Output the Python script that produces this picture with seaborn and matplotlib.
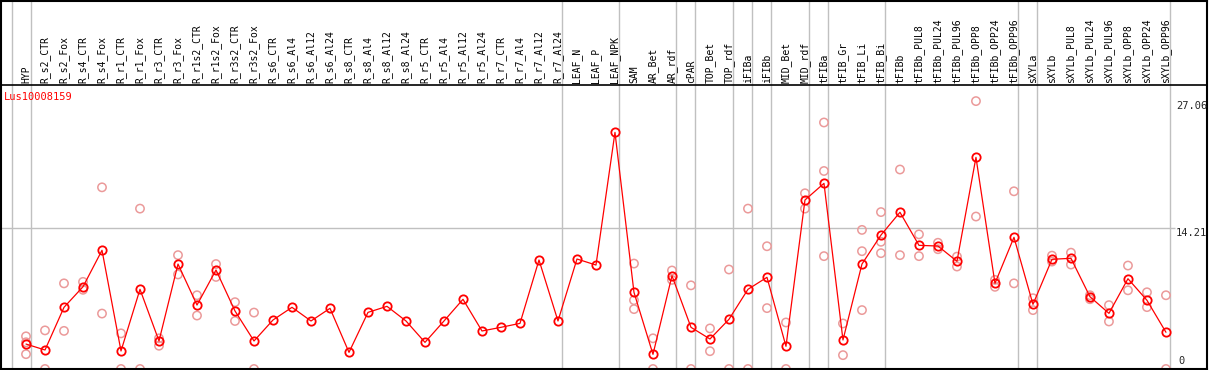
import seaborn as sns
import matplotlib.pyplot as plt
import pandas as pd

# sample names in plot order
samples = ["HYP", "R_s2_CTR", "R_s2_Fox", "R_s4_CTR", "R_s4_Fox", "R_r1_CTR", "R_r1_Fox",
           "R_r3_CTR", "R_r3_Fox", "R_r1s2_CTR", "R_r1s2_Fox", "R_r3s2_CTR", "R_r3s2_Fox",
           "R_s6_CTR", "R_s6_Al4", "R_s6_Al12", "R_s6_Al24", "R_s8_CTR", "R_s8_Al4",
           "R_s8_Al12", "R_s8_Al24", "R_r5_CTR", "R_r5_Al4", "R_r5_Al12", "R_r5_Al24",
           "R_r7_CTR", "R_r7_Al4", "R_r7_Al12", "R_r7_Al24", "LEAF_N", "LEAF_P", "LEAF_NPK",
           "SAM", "AR_Bet", "AR_rdf", "cPAR", "TOP_Bet", "TOP_rdf", "iFIBa", "iFIBb",
           "MID_Bet", "MID_rdf", "tFIBa", "tFIB_Gr", "tFIB_Li", "tFIB_Bi", "tFIBb",
           "tFIBb_PUL8", "tFIBb_PUL24", "tFIBb_PUL96", "tFIBb_OPP8", "tFIBb_OPP24",
           "tFIBb_OPP96", "sXYLa", "sXYLb", "sXYLb_PUL8", "sXYLb_PUL24", "sXYLb_PUL96",
           "sXYLb_OPP8", "sXYLb_OPP24", "sXYLb_OPP96"]

# mean expression per sample
means = [2.52, 1.92, 6.23, 8.31, 11.99, 1.82, 8.05, 2.83, 10.6, 6.46, 10.0, 5.86, 2.83,
         4.95, 6.23, 4.85, 6.13, 1.68, 5.72, 6.33, 4.85, 2.69, 4.85, 7.04, 3.84, 4.21,
         4.61, 11.01, 4.85, 11.11, 10.5, 23.9,
         7.74, 1.48, 9.42, 4.21, 3.03, 5.02, 8.05, 9.26, 2.29, 17.07, 18.75, 2.93, 10.6,
         13.53, 15.83, 12.49, 12.42, 10.88, 21.38, 8.65, 13.3, 6.53, 11.08, 11.18, 7.3,
         5.62, 9.12, 6.94, 3.71]

# visible replicate values per sample (others hidden behind the mean marker)
replicates = [
    [3.3, 2.7, 1.5], [3.9, 0.0], [8.65, 3.85], [8.8, 8.0], [18.35, 5.6], [3.6, 0.0],
    [16.2, 0.0], [3.1, 2.35], [11.5, 9.55], [7.45, 5.4], [10.6, 9.3], [6.75, 4.85],
    [5.7, 0.0],
    [], [], [], [], [], [], [], [], [], [], [], [], [], [], [], [], [], [], [],
    [10.65, 6.95, 6.05], [3.1, 0.0], [9.95, 9.0], [8.45, 0.0], [4.1, 1.8], [10.05, 0.0],
    [16.2, 0.0], [12.4, 6.15], [4.7, 0.0], [17.75, 16.2], [24.9, 20.0, 11.4], [4.6, 1.4],
    [14.05, 11.9, 5.95], [15.85, 12.85, 11.7], [20.15, 11.5], [13.6, 11.4], [12.75, 12.1],
    [11.35, 10.35], [27.06, 15.4], [9.0, 8.3], [17.95, 8.65], [7.15, 5.95], [11.45, 10.85],
    [11.75, 10.55], [7.45, 7.05], [6.45, 4.8], [10.45, 7.95], [7.75, 6.25], [7.45, 0.0]]

# group separators (drawn just after these sample indices)
group_ends = [-1, 0, 28, 31, 34, 35, 37, 38, 39, 41, 42, 45, 52, 53, 60]

y_ticks = [27.06, 14.21]
gene = "Lus10008159"

df = pd.DataFrame({"pos": range(len(samples)), "sample": samples, "mean": means})
rep_df = pd.DataFrame([(i, v) for i, vals in enumerate(replicates) for v in vals],
                      columns=["pos", "value"])

sns.set_style("white")
mono = "DejaVu Sans Mono"

fig = plt.figure(figsize=(12.09, 3.70), dpi=100)
ax = fig.add_axes([1 / 1209, 1 / 370, 1206 / 1209, 368 / 370])

header = 28.68
ax.set_xlim(-1.316, 62.16)
ax.set_ylim(0, 37.17)

for g in group_ends:
    ax.axvline(g + 0.237, color="#c0c0c0", lw=1, zorder=0)
ax.hlines(14.21, -1.316, 60.47, color="#c0c0c0", lw=1, zorder=0)
ax.axhline(header, color="black", lw=1.2)

sns.scatterplot(data=rep_df, x="pos", y="value", ax=ax, marker="o", s=36,
                fc="none", ec="#eb9a9a", linewidth=1.1, zorder=2)
sns.lineplot(data=df, x="pos", y="mean", ax=ax, color="red", lw=0.9, marker="o",
             ms=6, mfc="none", mec="red", mew=1.3, zorder=3)

for i, name in enumerate(samples):
    ax.text(i, header + 0.2, name, rotation=90, ha="center", va="bottom",
            fontsize=7, family=mono, color="black")

for t in y_ticks:
    ax.text(60.53, t, f"{t:.2f}", ha="left", va="top", fontsize=7.5, family=mono)
ax.text(60.63, 0.3, "0", ha="left", va="bottom", fontsize=7.5, family=mono)

ax.text(-1.158, 27.98, gene, ha="left", va="top", fontsize=7.5, family=mono, color="red")

ax.set_xticks([])
ax.set_yticks([])
ax.set_xlabel("")
ax.set_ylabel("")
for s in ax.spines.values():
    s.set_visible(True)
    s.set_color("black")
    s.set_linewidth(1.5)

fig.savefig("out.png", dpi=100)
